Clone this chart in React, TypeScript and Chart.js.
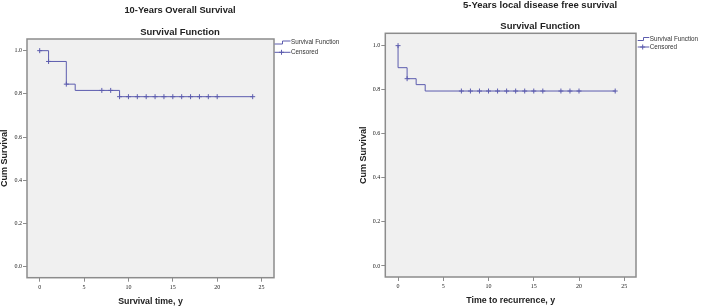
import React, { useEffect, useRef } from "react";
import { Chart, registerables } from "chart.js";

Chart.register(...registerables);

// Shared tick positions
const xTicks = [0, 5, 10, 15, 20, 25];
const yTicks = [0, 0.2, 0.4, 0.6, 0.8, 1.0];

// 10-year overall survival (Kaplan-Meier steps)
const osTimes = [0, 1, 3, 4, 9, 24];
const osSurvival = [1.0, 0.95, 0.845, 0.816, 0.787, 0.787];
const osCensoredTimes = [0, 1, 3, 7, 8, 9, 10, 11, 12, 13, 14, 15, 16, 17, 18, 19, 20, 24];
const osCensoredSurvival = [
  1.0, 0.95, 0.845, 0.816, 0.816, 0.787, 0.787, 0.787, 0.787, 0.787, 0.787, 0.787, 0.787,
  0.787, 0.787, 0.787, 0.787, 0.787,
];

// 5-year local disease free survival (Kaplan-Meier steps)
const dfsTimes = [0, 0, 1, 2, 3, 24];
const dfsSurvival = [1.0, 0.9, 0.85, 0.823, 0.794, 0.794];
const dfsCensoredTimes = [0, 1, 7, 8, 9, 10, 11, 12, 13, 14, 15, 16, 18, 19, 20, 24];
const dfsCensoredSurvival = [
  1.0, 0.85, 0.794, 0.794, 0.794, 0.794, 0.794, 0.794, 0.794, 0.794, 0.794, 0.794, 0.794,
  0.794, 0.794, 0.794,
];

const W = 351;
const H = 307;
const LINE = "#5c5cae";
const AXIS = "#8c8c8c";
const TEXT = "#222";
const SANS = "'Liberation Sans', Arial, sans-serif";
const SERIF = "'Liberation Serif', 'Times New Roman', serif";

type Area = { left: number; right: number; top: number; bottom: number };
type LegendPos = { dx: number; y1: number; y2: number; iconW: number; plusDx: number };

type PanelProps = {
  title: string;
  subtitle: string;
  xTitle: string;
  yTitle: string;
  times: number[];
  survival: number[];
  censoredTimes: number[];
  censoredSurvival: number[];
  area: Area;
  xRange: [number, number];
  yRange: [number, number];
  legend: LegendPos;
  titleSize: number;
};

function KMPanel(p: PanelProps) {
  const ref = useRef<HTMLCanvasElement>(null);

  useEffect(() => {
    const canvas = ref.current;
    if (!canvas) return;

    const decor = {
      id: "kmDecor",
      beforeDraw(chart: any) {
        const { ctx, chartArea: a } = chart;
        ctx.save();
        ctx.fillStyle = "#f0f0f0";
        ctx.fillRect(a.left, a.top, a.right - a.left, a.bottom - a.top);
        ctx.restore();
      },
      afterDraw(chart: any) {
        const { ctx, chartArea: a } = chart;
        ctx.save();
        // plot frame
        ctx.strokeStyle = AXIS;
        ctx.lineWidth = 1.5;
        ctx.strokeRect(a.left, a.top, a.right - a.left, a.bottom - a.top);

        // titles
        const cx = (a.left + a.right) / 2 + 29.5;
        ctx.fillStyle = TEXT;
        ctx.textAlign = "center";
        ctx.textBaseline = "alphabetic";
        ctx.font = `bold ${p.titleSize}px ${SANS}`;
        ctx.fillText(p.title, cx, a.top - 25.7);
        ctx.font = `bold 9.5px ${SANS}`;
        ctx.fillText(p.subtitle, cx, a.top - 4.3);

        // axis titles
        ctx.font = `bold 8.8px ${SANS}`;
        ctx.fillText(p.xTitle, (a.left + a.right) / 2, a.bottom + 26);
        ctx.save();
        ctx.translate(a.left - 22, (a.top + a.bottom) / 2);
        ctx.rotate(-Math.PI / 2);
        ctx.textBaseline = "middle";
        ctx.font = `bold 9px ${SANS}`;
        ctx.fillText(p.yTitle, 0, 0);
        ctx.restore();

        // legend
        const lg = p.legend;
        const x0 = a.right + lg.dx;
        const ds = chart.data.datasets;
        ctx.strokeStyle = LINE;
        ctx.lineWidth = 1;
        const half = lg.iconW / 2;
        ctx.beginPath();
        ctx.moveTo(x0, a.top + lg.y1 + 1.5);
        ctx.lineTo(x0 + half, a.top + lg.y1 + 1.5);
        ctx.lineTo(x0 + half, a.top + lg.y1 - 1.5);
        ctx.lineTo(x0 + lg.iconW, a.top + lg.y1 - 1.5);
        ctx.stroke();
        ctx.beginPath();
        ctx.moveTo(x0, a.top + lg.y2);
        ctx.lineTo(x0 + lg.iconW, a.top + lg.y2);
        const px = x0 + lg.plusDx;
        ctx.moveTo(px - 2.5, a.top + lg.y2);
        ctx.lineTo(px + 2.5, a.top + lg.y2);
        ctx.moveTo(px, a.top + lg.y2 - 2.5);
        ctx.lineTo(px, a.top + lg.y2 + 2.5);
        ctx.stroke();
        ctx.fillStyle = "#333";
        ctx.font = `6.3px ${SANS}`;
        ctx.textAlign = "left";
        ctx.textBaseline = "middle";
        ctx.fillText(ds[0].label, x0 + lg.iconW + 0.5, a.top + lg.y1);
        ctx.fillText(ds[1].label, x0 + lg.iconW + 0.5, a.top + lg.y2);
        ctx.restore();
      },
    };

    const tickFont = { family: SERIF, size: 6 };

    const chart = new Chart(canvas, {
      type: "scatter",
      data: {
        datasets: [
          {
            label: "Survival Function",
            data: p.times.map((t, i) => ({ x: t, y: p.survival[i] })),
            showLine: true,
            stepped: "before",
            borderColor: LINE,
            borderWidth: 1,
            pointRadius: 0,
            fill: false,
          },
          {
            label: "Censored",
            data: p.censoredTimes.map((t, i) => ({ x: t, y: p.censoredSurvival[i] })),
            showLine: false,
            pointStyle: "cross",
            pointRadius: 2.5,
            borderColor: LINE,
            backgroundColor: LINE,
            borderWidth: 1,
          },
        ],
      },
      options: {
        animation: false,
        responsive: false,
        events: [],
        layout: { padding: { top: p.area.top, right: W - p.area.right, left: 0, bottom: 0 } },
        plugins: {
          legend: { display: false },
          title: { display: false },
          tooltip: { enabled: false },
        },
        scales: {
          x: {
            type: "linear",
            min: p.xRange[0],
            max: p.xRange[1],
            afterBuildTicks: (s: any) => {
              s.ticks = xTicks.map((v) => ({ value: v }));
            },
            afterFit: (s: any) => {
              s.height = H - p.area.bottom;
            },
            grid: { drawOnChartArea: false, drawTicks: true, tickLength: 4, color: AXIS, lineWidth: 1 },
            border: { display: false },
            ticks: {
              font: tickFont,
              color: TEXT,
              padding: 2,
              maxRotation: 0,
              autoSkip: false,
              callback: (v: any) => String(v),
            },
          },
          y: {
            type: "linear",
            min: p.yRange[0],
            max: p.yRange[1],
            afterBuildTicks: (s: any) => {
              s.ticks = yTicks.map((v) => ({ value: v }));
            },
            afterFit: (s: any) => {
              s.width = p.area.left;
            },
            grid: { drawOnChartArea: false, drawTicks: true, tickLength: 4, color: AXIS, lineWidth: 1 },
            border: { display: false },
            ticks: {
              font: tickFont,
              color: TEXT,
              padding: 1,
              autoSkip: false,
              callback: (v: any) => Number(v).toFixed(1),
            },
          },
        },
      },
      plugins: [decor],
    } as any);

    return () => chart.destroy();
  }, []);

  return <canvas ref={ref} width={W} height={H} style={{ display: "block" }} />;
}

export default function App() {
  useEffect(() => {
    document.body.style.margin = "0";
  }, []);

  return (
    <div style={{ display: "flex", width: 2 * W, height: H, background: "#fff" }}>
      <KMPanel
        title="10-Years Overall Survival"
        subtitle="Survival Function"
        xTitle="Survival time, y"
        yTitle="Cum Survival"
        times={osTimes}
        survival={osSurvival}
        censoredTimes={osCensoredTimes}
        censoredSurvival={osCensoredSurvival}
        area={{ left: 27, right: 274, top: 39, bottom: 277.7 }}
        xRange={[-1.43, 26.4]}
        yRange={[-0.051, 1.054]}
        legend={{ dx: 0.5, y1: 3.5, y2: 13.3, iconW: 16, plusDx: 7 }}
        titleSize={9.3}
      />
      <KMPanel
        title="5-Years local disease free survival"
        subtitle="Survival Function"
        xTitle="Time to recurrence, y"
        yTitle="Cum Survival"
        times={dfsTimes}
        survival={dfsSurvival}
        censoredTimes={dfsCensoredTimes}
        censoredSurvival={dfsCensoredSurvival}
        area={{ left: 34.3, right: 285, top: 33.3, bottom: 277 }}
        xRange={[-1.41, 26.3]}
        yRange={[-0.05, 1.056]}
        legend={{ dx: 1.7, y1: 5.7, y2: 13.7, iconW: 11.6, plusDx: 5 }}
        titleSize={9.5}
      />
    </div>
  );
}
